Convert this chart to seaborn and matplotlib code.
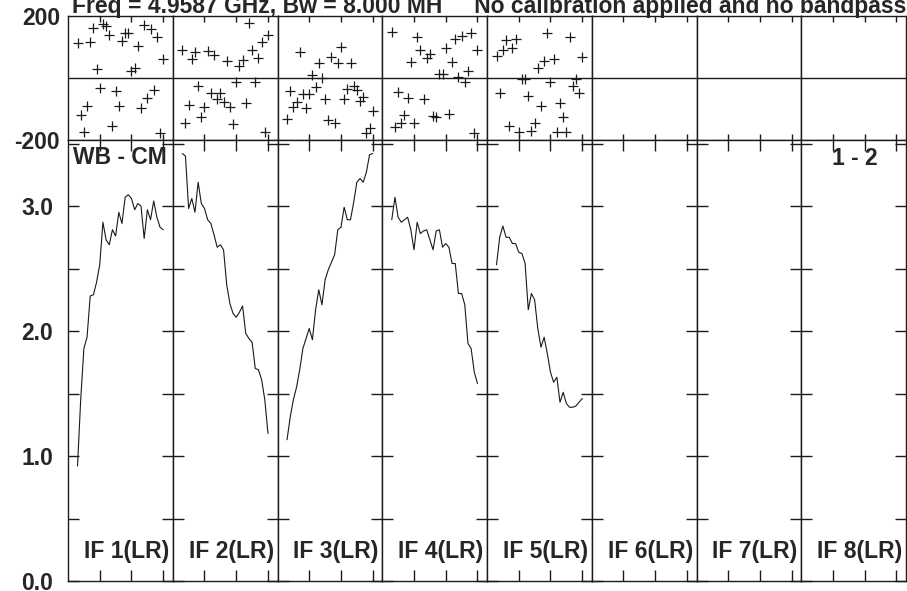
import numpy as np
import pandas as pd
import matplotlib
matplotlib.use('Agg')
import matplotlib.pyplot as plt
import seaborn as sns

# channel numbers (same for every IF)
channels = list(range(3, 31))

# phase (degrees) per IF
phase_if1 = [112, -119, -173, -90, 115, 160, 29, -31, 173, 169, 140, -155, -41, -90,
             120, 144, 144, 23, 31, 103, -98, 171, -66, 158, -39, 133, -176, 61]
phase_if2 = [90, -146, -87, 61, 83, -25, -125, -92, 88, -49, 74, -69, -49, -76,
             56, -92, -149, -12, 40, 58, -80, 178, 90, -12, 66, 115, -173, 139]
phase_if3 = [-132, -42, -95, -76, 85, -52, -98, -52, 10, -30, 47, 1, -69, -135,
             67, -144, 49, 101, -69, -37, 49, -26, -39, -74, -62, -178, -162, -105]
phase_if4 = [149, -157, -44, -144, -119, -66, 51, -144, 131, 90, -69, 63, 76, -123,
             -125, 12, 12, 96, -117, 51, 125, 4, 137, -12, 24, 146, -176, 90]
phase_if5 = [71, -47, 90, 123, -155, 98, 126, -173, -4, -4, -57, -170, -146, 31,
             -90, 56, 144, -12, 61, -173, -80, -127, -173, 131, -26, -4, -47, 69]

# amplitude per IF
amp_if1 = [0.92, 1.45, 1.86, 1.95, 2.28, 2.29, 2.39, 2.53, 2.87, 2.73, 2.69, 2.81, 2.76, 2.95,
           2.86, 3.07, 3.09, 3.06, 2.97, 3.02, 3.00, 2.74, 2.97, 2.89, 3.04, 2.91, 2.83, 2.81]
amp_if2 = [3.42, 3.40, 2.98, 3.06, 2.95, 3.19, 3.02, 2.98, 2.89, 2.86, 2.77, 2.67, 2.69, 2.65,
           2.37, 2.22, 2.14, 2.11, 2.15, 2.20, 1.98, 1.94, 1.91, 1.70, 1.69, 1.61, 1.45, 1.18]
amp_if3 = [1.13, 1.31, 1.45, 1.55, 1.69, 1.86, 1.94, 2.02, 1.93, 2.17, 2.33, 2.21, 2.41, 2.49,
           2.55, 2.61, 2.81, 2.83, 2.99, 2.89, 2.89, 3.03, 3.19, 3.22, 3.19, 3.27, 3.41, 3.42]
amp_if4 = [2.89, 3.07, 2.91, 2.87, 2.89, 2.91, 2.81, 2.65, 2.87, 2.78, 2.80, 2.81, 2.73, 2.65,
           2.80, 2.81, 2.67, 2.70, 2.67, 2.54, 2.54, 2.30, 2.30, 2.21, 1.90, 1.86, 1.67, 1.58]
amp_if5 = [2.53, 2.75, 2.84, 2.75, 2.75, 2.70, 2.70, 2.63, 2.62, 2.54, 2.17, 2.30, 2.25, 2.02,
           1.87, 1.95, 1.82, 1.67, 1.59, 1.63, 1.43, 1.51, 1.42, 1.39, 1.39, 1.40, 1.43, 1.46]

phases = [phase_if1, phase_if2, phase_if3, phase_if4, phase_if5]
amps = [amp_if1, amp_if2, amp_if3, amp_if4, amp_if5]
if_labels = ['IF 1(LR)', 'IF 2(LR)', 'IF 3(LR)', 'IF 4(LR)',
             'IF 5(LR)', 'IF 6(LR)', 'IF 7(LR)', 'IF 8(LR)']
amp_ticks = [0.0, 0.5, 1.0, 1.5, 2.0, 2.5, 3.0, 3.5]
amp_ticklabels = ['0.0', '', '1.0', '', '2.0', '', '3.0', '']
title = 'Freq = 4.9587 GHz, Bw = 8.000 MH     No calibration applied and no bandpass'

sns.set_theme(style="white")
plt.rcParams['font.family'] = ['Liberation Sans', 'DejaVu Sans']
plt.rcParams['font.weight'] = 'bold'
fs = 16.5

fig = plt.figure(figsize=(9.07, 5.91), dpi=100)
gs = fig.add_gridspec(2, 8, height_ratios=[124, 441], left=68/907, right=906/907,
                      top=1-16/591, bottom=10/591, wspace=0, hspace=0)

for i in range(8):
    axp = fig.add_subplot(gs[0, i])
    axa = fig.add_subplot(gs[1, i])
    if i < 5:
        df = pd.DataFrame({'chan': channels, 'phase': phases[i], 'amp': amps[i]})
        sns.scatterplot(data=df, x='chan', y='phase', marker='+', color='k',
                        s=45, linewidth=0.9, ax=axp)
        sns.lineplot(data=df, x='chan', y='amp', color='k', lw=0.8, ax=axa)
    axp.axhline(0, color='k', lw=1)

    for ax in (axp, axa):
        ax.set_xlabel('')
        ax.set_ylabel('')
        ax.set_xlim(0, 33)
        ax.set_xticks([10, 20, 30])
        ax.set_xticklabels([])
        for sp in ax.spines.values():
            sp.set_color('k')
            sp.set_linewidth(1.0)

    axp.set_ylim(-200, 200)
    axp.set_yticks([-200, 200])
    axp.set_yticklabels(['-200', '200'] if i == 0 else [])
    axp.tick_params(axis='y', length=0, pad=5.8, labelsize=fs)
    axp.tick_params(axis='x', direction='in', top=True, bottom=True, length=4, width=1, color='k')

    axa.set_ylim(0, 3.528)
    axa.set_yticks(amp_ticks)
    axa.set_yticklabels(amp_ticklabels if i == 0 else [])
    axa.tick_params(axis='y', direction='in', left=True, right=True, length=8, width=1,
                    color='k', pad=10.8, labelsize=fs)
    axa.tick_params(axis='x', direction='in', top=True, bottom=True, length=8, width=1, color='k')

    axa.text(0.965, 0.068, if_labels[i], transform=axa.transAxes, ha='right', va='center',
             fontsize=fs, fontweight='bold')
    if i == 0:
        axa.text(0.05, 0.961, 'WB - CM', transform=axa.transAxes, ha='left', va='center',
                 fontsize=fs, fontweight='bold')
    if i == 7:
        axa.text(0.514, 0.959, '1 - 2', transform=axa.transAxes, ha='center', va='center',
                 fontsize=fs, fontweight='bold')

fig.text(72/907, 1-13/591, title, ha='left', va='baseline', fontsize=fs, fontweight='bold')

fig.savefig('out.png', dpi=100)
